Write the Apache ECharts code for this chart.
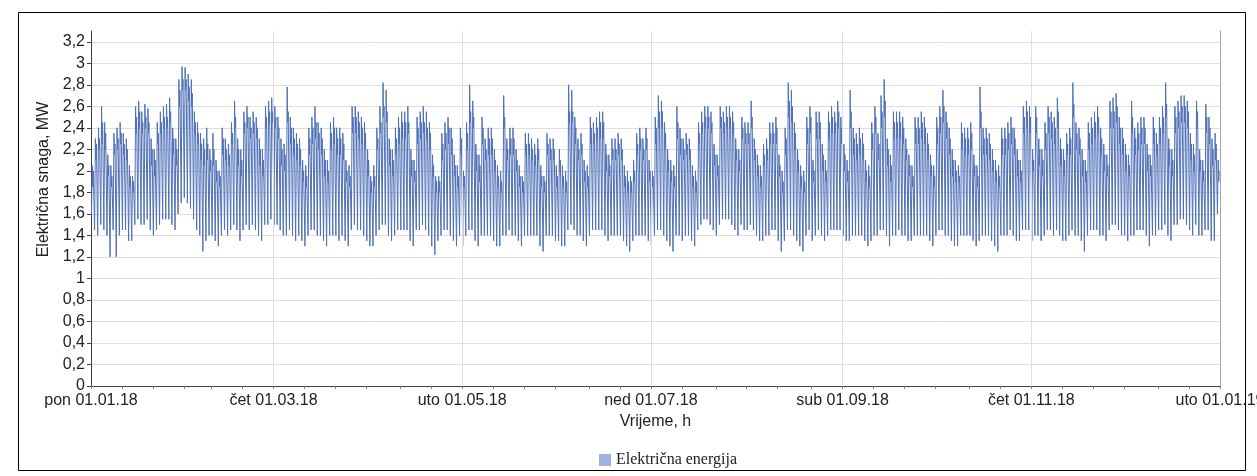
<!DOCTYPE html>
<html>
<head>
<meta charset="utf-8">
<script src="https://cdn.jsdelivr.net/npm/echarts@6/dist/echarts.min.js"></script>
<style>
html,body{margin:0;padding:0;background:#fff;}
#c{width:1257px;height:476px;}
</style>
</head>
<body>
<div id="c"></div>
<script>
// Tick labels of the x axis (day of year 2018 -> label)
var labelDays = [0, 59, 120, 181, 243, 304, 365];
var labelTexts = ['pon 01.01.18', 'čet 01.03.18', 'uto 01.05.18', 'ned 01.07.18', 'sub 01.09.18', 'čet 01.11.18', 'uto 01.01.19'];
var minorTickDays = [0,10,20,30,39,49,59,69,79,89,100,110,120,130,140,150,161,171,181,191,202,212,222,233,243,253,263,273,284,294,304,314,324,334,345,355,365];

// Daily values (MW), one row per week Mon..Sun, starting Mon 01.01.2018
// morning peak (~10 h)
var dayPeak = [
2.05,2.30,2.40,2.60,2.45,2.15,2.05,
2.35,2.40,2.45,2.35,2.30,2.05,1.95,
2.60,2.65,2.55,2.62,2.58,2.30,2.20,
2.45,2.55,2.60,2.62,2.68,2.40,2.30,
2.85,2.97,2.96,2.90,2.85,2.55,2.45,
2.35,2.30,2.40,2.20,2.35,2.10,2.00,
2.40,2.30,2.25,2.45,2.65,2.30,2.20,
2.55,2.60,2.50,2.55,2.50,2.30,2.20,
2.60,2.65,2.68,2.60,2.50,2.30,2.25,
2.78,2.50,2.40,2.35,2.30,2.10,2.05,
2.40,2.50,2.60,2.45,2.40,2.20,2.10,
2.45,2.50,2.40,2.40,2.35,2.10,2.05,
2.60,2.60,2.55,2.50,2.45,2.20,1.95,
2.05,2.40,2.60,2.82,2.75,2.30,2.20,
2.40,2.50,2.55,2.55,2.60,2.20,2.10,
2.50,2.55,2.60,2.55,2.45,2.15,1.95,
1.95,2.35,2.45,2.50,2.40,2.15,2.05,
2.40,2.00,2.45,2.80,2.65,2.25,2.15,
2.50,2.30,2.40,2.40,2.20,2.05,2.00,
2.70,2.30,2.40,2.40,2.20,2.05,1.95,
2.35,2.35,2.30,2.25,2.30,2.05,1.95,
2.35,2.30,2.30,2.05,2.20,2.05,2.00,
2.80,2.75,2.50,2.30,2.35,2.10,2.05,
2.50,2.45,2.50,2.55,2.55,2.25,2.15,
2.30,2.30,2.35,2.30,2.05,2.00,1.95,
2.10,2.35,2.40,2.30,2.40,2.10,2.00,
2.50,2.70,2.65,2.45,2.20,2.10,2.05,
2.60,2.40,2.30,2.35,2.30,2.05,2.00,
2.45,2.55,2.60,2.60,2.55,2.25,2.15,
2.60,2.55,2.60,2.60,2.55,2.30,2.20,
2.50,2.45,2.45,2.65,2.30,2.15,2.05,
2.25,2.30,2.45,2.45,2.50,2.15,2.00,
2.40,2.82,2.75,2.45,2.20,2.05,2.00,
2.50,2.60,2.10,2.55,2.55,2.25,2.10,
2.55,2.60,2.55,2.65,2.50,2.25,2.10,
2.75,2.40,2.35,2.40,2.35,2.10,2.05,
2.45,2.60,2.35,2.70,2.85,2.30,2.15,
2.55,2.55,2.55,2.50,2.30,2.15,2.05,
2.50,2.50,2.55,2.50,2.35,2.15,2.05,
2.50,2.60,2.75,2.55,2.40,2.20,2.10,
2.05,2.45,2.40,2.40,2.45,2.15,2.05,
2.78,2.40,2.40,2.35,2.20,2.10,2.05,
2.40,2.40,2.45,2.50,2.40,2.20,2.10,
2.60,2.65,2.60,2.20,2.60,2.30,2.20,
2.45,2.60,2.55,2.50,2.68,2.30,2.20,
2.35,2.40,2.82,2.45,2.40,2.20,2.10,
2.45,2.50,2.55,2.60,2.40,2.25,2.15,
2.65,2.68,2.72,2.50,2.40,2.25,2.15,
2.65,2.40,2.45,2.50,2.50,2.25,2.15,
2.50,2.35,2.50,2.60,2.82,2.30,2.20,
2.60,2.65,2.70,2.70,2.65,2.35,2.25,
2.65,2.20,2.10,2.62,2.50,2.30,2.35,
2.10
];
// midday dip (~14 h)
var dayDip = [
1.85,2.10,2.20,2.25,2.20,1.95,1.85,
2.15,2.20,2.25,2.15,2.10,1.85,1.80,
2.35,2.40,2.35,2.40,2.35,2.05,1.95,
2.25,2.35,2.40,2.40,2.45,2.15,2.05,
2.60,2.75,2.75,2.65,2.60,2.35,2.25,
2.10,2.05,2.10,2.00,2.05,1.90,1.85,
2.15,2.10,2.05,2.25,2.40,2.05,1.95,
2.35,2.40,2.30,2.35,2.30,2.05,1.95,
2.40,2.45,2.45,2.40,2.30,2.05,2.00,
2.45,2.25,2.15,2.10,2.05,1.90,1.85,
2.15,2.25,2.30,2.20,2.15,1.95,1.90,
2.20,2.25,2.15,2.15,2.10,1.90,1.85,
2.35,2.35,2.30,2.25,2.20,1.95,1.80,
1.85,2.20,2.35,2.50,2.45,2.05,1.95,
2.15,2.25,2.30,2.30,2.35,1.95,1.90,
2.25,2.30,2.35,2.30,2.20,1.95,1.80,
1.80,2.10,2.20,2.25,2.15,1.95,1.85,
2.15,1.85,2.20,2.45,2.40,2.00,1.90,
2.25,2.10,2.15,2.15,2.00,1.85,1.80,
2.40,2.10,2.15,2.15,2.00,1.85,1.80,
2.15,2.15,2.10,2.05,2.10,1.85,1.80,
2.15,2.10,2.10,1.85,2.00,1.85,1.80,
2.45,2.45,2.25,2.10,2.15,1.90,1.85,
2.25,2.25,2.30,2.30,2.30,2.00,1.95,
2.10,2.10,2.15,2.10,1.85,1.80,1.80,
1.90,2.15,2.20,2.10,2.20,1.90,1.85,
2.25,2.40,2.40,2.20,2.00,1.90,1.85,
2.30,2.15,2.10,2.15,2.10,1.85,1.80,
2.25,2.35,2.40,2.40,2.35,2.05,1.95,
2.40,2.35,2.40,2.40,2.35,2.10,2.00,
2.30,2.25,2.25,2.40,2.10,1.95,1.85,
2.05,2.10,2.25,2.25,2.25,1.95,1.80,
2.15,2.50,2.45,2.20,2.00,1.85,1.80,
2.25,2.35,1.90,2.30,2.30,2.00,1.90,
2.30,2.35,2.35,2.40,2.25,2.00,1.90,
2.40,2.15,2.10,2.15,2.10,1.90,1.85,
2.20,2.35,2.10,2.40,2.50,2.05,1.90,
2.30,2.30,2.30,2.25,2.10,1.95,1.85,
2.25,2.25,2.30,2.25,2.10,1.95,1.85,
2.25,2.35,2.45,2.30,2.15,1.95,1.90,
1.90,2.20,2.15,2.15,2.20,1.95,1.85,
2.40,2.15,2.15,2.10,2.00,1.90,1.85,
2.15,2.15,2.20,2.25,2.15,1.95,1.90,
2.35,2.40,2.35,2.00,2.35,2.05,1.95,
2.20,2.35,2.30,2.25,2.40,2.05,1.95,
2.15,2.15,2.50,2.20,2.15,1.95,1.90,
2.20,2.25,2.30,2.35,2.15,2.00,1.95,
2.40,2.40,2.45,2.25,2.15,2.00,1.95,
2.35,2.15,2.20,2.25,2.25,2.00,1.95,
2.25,2.15,2.25,2.35,2.50,2.05,1.95,
2.35,2.40,2.45,2.45,2.40,2.10,2.00,
2.40,2.00,1.90,2.35,2.25,2.05,2.10,
1.90
];
// evening level (~18 h)
var dayEvening = [
2.00,2.25,2.30,2.45,2.35,2.05,1.95,
2.25,2.30,2.35,2.25,2.20,1.95,1.90,
2.50,2.55,2.45,2.50,2.45,2.20,2.10,
2.35,2.45,2.50,2.50,2.55,2.30,2.20,
2.75,2.85,2.85,2.78,2.72,2.45,2.35,
2.25,2.20,2.25,2.10,2.20,2.00,1.95,
2.30,2.20,2.15,2.35,2.50,2.20,2.10,
2.45,2.50,2.40,2.45,2.40,2.20,2.10,
2.50,2.55,2.55,2.50,2.40,2.20,2.15,
2.55,2.40,2.30,2.25,2.20,2.00,1.95,
2.30,2.40,2.45,2.35,2.30,2.10,2.00,
2.35,2.40,2.30,2.30,2.25,2.00,1.95,
2.50,2.50,2.45,2.40,2.35,2.10,1.90,
1.95,2.30,2.45,2.60,2.55,2.20,2.10,
2.30,2.40,2.45,2.45,2.45,2.10,2.00,
2.40,2.45,2.45,2.40,2.35,2.05,1.90,
1.90,2.25,2.35,2.40,2.30,2.05,1.95,
2.30,1.95,2.35,2.55,2.50,2.15,2.05,
2.40,2.20,2.30,2.30,2.10,1.95,1.90,
2.50,2.20,2.30,2.30,2.10,1.95,1.90,
2.25,2.25,2.20,2.15,2.20,1.95,1.90,
2.25,2.20,2.20,1.95,2.10,1.95,1.90,
2.55,2.55,2.40,2.20,2.25,2.00,1.95,
2.40,2.35,2.40,2.45,2.45,2.15,2.05,
2.20,2.20,2.25,2.20,1.95,1.90,1.90,
2.00,2.25,2.30,2.20,2.30,2.00,1.95,
2.40,2.55,2.55,2.35,2.10,2.00,1.95,
2.45,2.30,2.20,2.25,2.20,1.95,1.90,
2.35,2.45,2.50,2.50,2.45,2.15,2.05,
2.50,2.45,2.50,2.50,2.45,2.20,2.10,
2.40,2.35,2.35,2.50,2.20,2.05,1.95,
2.15,2.20,2.35,2.35,2.40,2.05,1.90,
2.30,2.65,2.60,2.35,2.10,1.95,1.90,
2.40,2.50,2.00,2.45,2.45,2.15,2.00,
2.45,2.50,2.45,2.55,2.40,2.15,2.00,
2.55,2.30,2.25,2.30,2.25,2.00,1.95,
2.35,2.50,2.25,2.55,2.65,2.20,2.05,
2.45,2.45,2.45,2.40,2.20,2.05,1.95,
2.40,2.40,2.45,2.40,2.25,2.05,1.95,
2.40,2.50,2.60,2.45,2.30,2.10,2.00,
1.95,2.35,2.30,2.30,2.35,2.05,1.95,
2.55,2.30,2.30,2.25,2.10,2.00,1.95,
2.30,2.30,2.35,2.40,2.30,2.10,2.00,
2.50,2.55,2.50,2.10,2.50,2.20,2.10,
2.35,2.50,2.45,2.40,2.55,2.20,2.10,
2.25,2.30,2.62,2.35,2.30,2.10,2.00,
2.35,2.40,2.45,2.50,2.30,2.15,2.05,
2.55,2.55,2.60,2.40,2.30,2.15,2.05,
2.50,2.30,2.35,2.40,2.40,2.15,2.05,
2.40,2.25,2.40,2.50,2.62,2.20,2.10,
2.50,2.55,2.60,2.60,2.55,2.25,2.15,
2.55,2.10,2.00,2.50,2.40,2.20,2.25,
2.00
];
// night minimum (~4 h)
var dayLow = [
1.60,1.45,1.40,1.50,1.45,1.40,1.20,
1.45,1.20,1.40,1.45,1.45,1.35,1.35,
1.50,1.55,1.50,1.50,1.55,1.45,1.40,
1.45,1.50,1.55,1.55,1.55,1.50,1.45,
1.60,1.70,1.75,1.70,1.65,1.55,1.45,
1.40,1.25,1.35,1.40,1.40,1.35,1.30,
1.40,1.45,1.40,1.45,1.50,1.45,1.35,
1.45,1.50,1.45,1.50,1.45,1.40,1.35,
1.50,1.50,1.55,1.50,1.50,1.45,1.40,
1.40,1.45,1.40,1.35,1.40,1.35,1.30,
1.40,1.45,1.45,1.40,1.40,1.35,1.30,
1.40,1.40,1.40,1.35,1.40,1.35,1.30,
1.45,1.50,1.45,1.45,1.40,1.35,1.30,
1.30,1.40,1.45,1.50,1.50,1.40,1.35,
1.40,1.45,1.45,1.45,1.45,1.35,1.30,
1.45,1.45,1.50,1.45,1.40,1.30,1.22,
1.35,1.40,1.45,1.45,1.40,1.35,1.30,
1.40,1.30,1.40,1.45,1.45,1.35,1.30,
1.40,1.40,1.40,1.40,1.35,1.30,1.30,
1.40,1.40,1.45,1.40,1.40,1.35,1.30,
1.40,1.40,1.40,1.40,1.40,1.30,1.25,
1.40,1.40,1.40,1.35,1.35,1.30,1.30,
1.45,1.50,1.45,1.40,1.40,1.35,1.30,
1.40,1.45,1.45,1.45,1.45,1.40,1.35,
1.40,1.40,1.40,1.40,1.35,1.30,1.25,
1.35,1.40,1.40,1.40,1.40,1.35,1.30,
1.40,1.45,1.45,1.40,1.35,1.30,1.25,
1.40,1.40,1.35,1.40,1.40,1.35,1.30,
1.45,1.50,1.55,1.55,1.50,1.45,1.40,
1.50,1.55,1.55,1.55,1.50,1.45,1.40,
1.50,1.45,1.45,1.50,1.45,1.40,1.35,
1.35,1.40,1.40,1.45,1.45,1.35,1.25,
1.35,1.45,1.45,1.40,1.35,1.30,1.25,
1.40,1.45,1.35,1.40,1.45,1.40,1.35,
1.40,1.45,1.45,1.45,1.45,1.40,1.35,
1.35,1.40,1.40,1.40,1.40,1.35,1.30,
1.35,1.40,1.40,1.45,1.45,1.40,1.30,
1.40,1.40,1.45,1.40,1.40,1.35,1.35,
1.40,1.40,1.40,1.40,1.40,1.35,1.30,
1.40,1.45,1.45,1.40,1.40,1.35,1.30,
1.30,1.40,1.40,1.40,1.40,1.35,1.30,
1.35,1.40,1.40,1.40,1.35,1.30,1.25,
1.40,1.40,1.40,1.45,1.40,1.35,1.35,
1.45,1.45,1.45,1.35,1.40,1.40,1.35,
1.40,1.45,1.45,1.40,1.45,1.40,1.35,
1.35,1.40,1.45,1.40,1.40,1.35,1.25,
1.40,1.45,1.45,1.45,1.40,1.40,1.35,
1.45,1.50,1.50,1.45,1.40,1.40,1.35,
1.40,1.40,1.45,1.45,1.45,1.40,1.30,
1.40,1.40,1.45,1.45,1.50,1.40,1.35,
1.50,1.50,1.55,1.55,1.50,1.45,1.40,
1.50,1.40,1.40,1.45,1.45,1.35,1.35,
1.60
];
// hour of day at which each daily value occurs
var hourLow = 4, hourPeak = 10, hourDip = 14, hourEvening = 18;

var points = [];
for (var d = 0; d < dayPeak.length; d++) {
  points.push([d + hourLow / 24, dayLow[d]]);
  points.push([d + hourPeak / 24, dayPeak[d]]);
  points.push([d + hourDip / 24, dayDip[d]]);
  points.push([d + hourEvening / 24, dayEvening[d]]);
}

var chart = echarts.init(document.getElementById('c'), null, {renderer: 'canvas'});
var gridLines = labelDays.slice(1, labelDays.length - 1).map(function (v) { return {xAxis: v}; });

chart.setOption({
  animation: false,
  backgroundColor: '#ffffff',
  textStyle: {fontFamily: 'Liberation Sans, Arial, sans-serif'},
  grid: {left: 91, right: 37, top: 31, bottom: 90, containLabel: false, outerBoundsMode: 'none'},
  legend: {
    left: 594, top: 447,
    itemWidth: 12, itemHeight: 12, itemGap: 5,
    icon: 'rect',
    textStyle: {fontFamily: 'Liberation Serif, Times New Roman, serif', fontSize: 16, color: '#222'},
    data: [{name: 'Električna energija', itemStyle: {color: '#9fb1dc'}}]
  },
  graphic: [{
    type: 'rect', silent: true, z: 100,
    shape: {x: 18.5, y: 12.5, width: 1227, height: 458},
    style: {fill: 'none', stroke: '#000', lineWidth: 1}
  }],
  xAxis: {
    type: 'value', min: 0, max: 365,
    name: 'Vrijeme, h', nameLocation: 'middle', nameGap: 26,
    nameTextStyle: {fontSize: 16, color: '#222'},
    axisLine: {show: true, lineStyle: {color: '#404040', width: 1}},
    axisTick: {show: true, customValues: minorTickDays, length: 3, lineStyle: {color: '#808080'}},
    axisLabel: {
      customValues: labelDays, margin: 7, fontSize: 16, color: '#222',
      formatter: function (v) { var i = labelDays.indexOf(Math.round(v)); return i >= 0 ? labelTexts[i] : ''; }
    },
    splitLine: {show: false}
  },
  yAxis: [{
    type: 'value', min: 0, max: 3.3, interval: 0.2,
    name: 'Električna snaga, MW', nameLocation: 'middle', nameGap: 39,
    nameTextStyle: {fontSize: 16, color: '#222', padding: [0, 0, 0, 58]},
    axisLine: {show: true, lineStyle: {color: '#404040', width: 1}},
    axisTick: {show: true, length: 4, lineStyle: {color: '#404040'}},
    axisLabel: {
      fontSize: 16, color: '#222', margin: 6, showMaxLabel: false,
      formatter: function (v) { return String(Math.round(v * 10) / 10).replace('.', ','); }
    },
    splitLine: {show: true, showMaxLine: false, lineStyle: {color: '#dedede', width: 1}}
  }, {
    type: 'value', min: 0, max: 3.3, position: 'right',
    axisLine: {show: true, lineStyle: {color: '#a6a6a6'}},
    axisTick: {show: false}, axisLabel: {show: false}, splitLine: {show: false}
  }],
  series: [{
    name: 'gridlines', type: 'line', data: [], z: 1, silent: true,
    markLine: {silent: true, symbol: 'none', label: {show: false},
      lineStyle: {color: '#dedede', width: 1, type: 'solid'}, data: gridLines}
  }, {
    name: 'Električna energija', type: 'line', z: 2,
    data: points, showSymbol: false, symbol: 'none', sampling: false,
    lineStyle: {color: '#5071b7', width: 1},
    itemStyle: {color: '#9fb1dc'}
  }]
});
</script>
</body>
</html>
